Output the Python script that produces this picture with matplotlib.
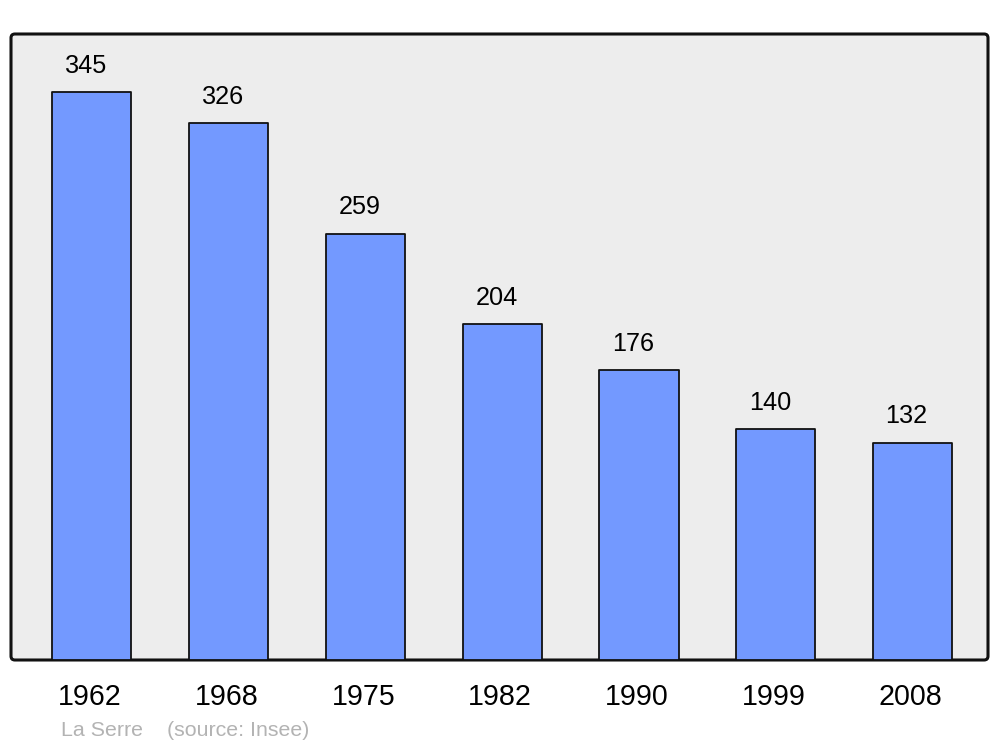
import matplotlib
matplotlib.use("Agg")
import matplotlib.pyplot as plt
from matplotlib.patches import FancyBboxPatch

plt.rcParams['font.family'] = ['Liberation Sans', 'DejaVu Sans']

years = ['1962', '1968', '1975', '1982', '1990', '1999', '2008']
population = [345, 326, 259, 204, 176, 140, 132]

fig = plt.figure(figsize=(10, 7.47), dpi=100, facecolor='white')
ax = fig.add_axes([0.011, 87 / 747, 0.977, 626 / 747])
ax.set_facecolor('none')
for s in ax.spines.values():
    s.set_visible(False)

# rounded frame with grey background
frame = FancyBboxPatch((0, 0), 1, 1, boxstyle="round,pad=0,rounding_size=0.004",
                       mutation_aspect=977 / 626, transform=ax.transAxes,
                       facecolor='#ededed', edgecolor='#111111', linewidth=2.2,
                       zorder=0, clip_on=False)
ax.add_patch(frame)

x = range(len(years))
bars = ax.bar(x, population, width=0.578, color='#7399ff', edgecolor='#111111',
              linewidth=1.3, zorder=2)
for b in bars:
    b.set_joinstyle('round')

for i, v in zip(x, population):
    ax.annotate(str(v), xy=(i, v), xytext=(-4.2, 14), textcoords='offset points',
                ha='center', va='baseline', fontsize=18.2, color='black')
    ax.annotate(years[i], xy=(i, 0), xycoords=('data', 'axes fraction'),
                xytext=(-1.5, -32.5), textcoords='offset points',
                ha='center', va='baseline', fontsize=20.6, color='black',
                annotation_clip=False)

ax.set_xlim(-0.592, 6.552)
ax.set_ylim(0, 380.2)
ax.set_xticks([])
ax.set_yticks([])

fig.text(0.061, 1 - 736.5 / 747, 'La Serre', fontsize=15.4, color='#b3b3b3',
         ha='left', va='baseline')
fig.text(0.167, 1 - 736.5 / 747, '(source: Insee)', fontsize=15.4, color='#b3b3b3',
         ha='left', va='baseline')

fig.savefig('out.png', dpi=100, facecolor='white')
